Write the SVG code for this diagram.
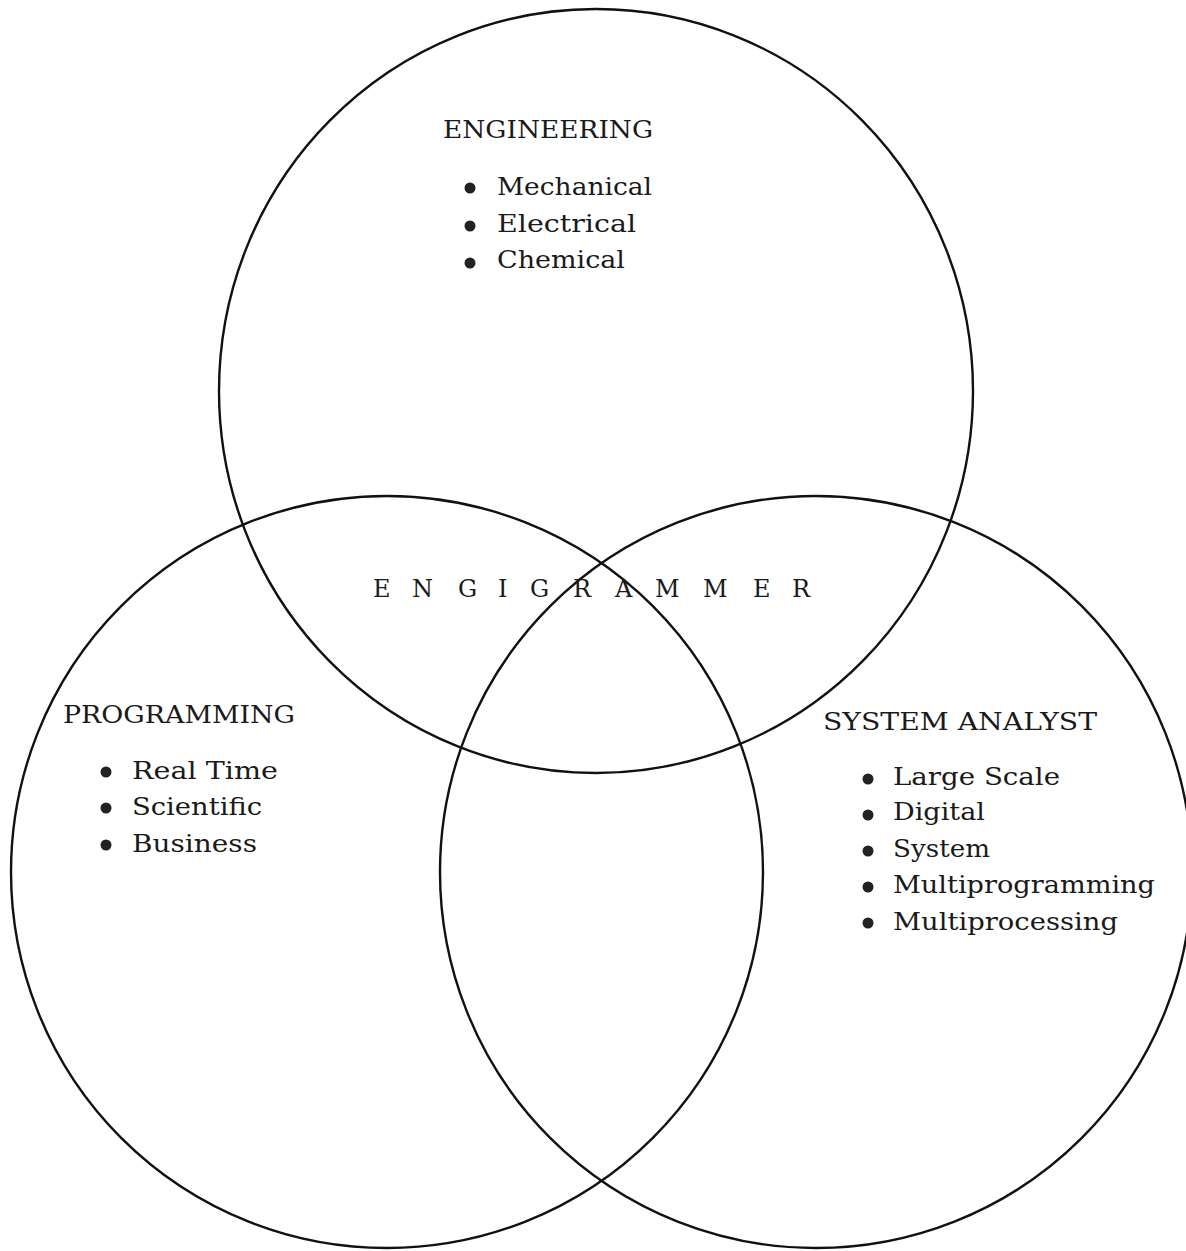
<svg xmlns="http://www.w3.org/2000/svg" width="1186" height="1251" viewBox="0 0 1186 1251">
<style>
.ring{fill:none;stroke:#111;stroke-width:2.4}
.t{font-family:"DejaVu Serif","Liberation Serif",serif;font-size:25px;fill:#1a1a1a}
.h{font-family:"DejaVu Serif","Liberation Serif",serif;font-size:24px;fill:#1a1a1a}
.b{fill:#222}
</style>
<rect width="1186" height="1251" fill="#fff"/>
<g id="connectors"></g>
<g id="engineering">
<ellipse class="ring" cx="596" cy="391" rx="377" ry="382"/>
<text class="h" x="443" y="138" textLength="210" lengthAdjust="spacingAndGlyphs">ENGINEERING</text>
<circle class="b" cx="470" cy="188" r="5.5"/><text class="t" x="497" y="195" textLength="155" lengthAdjust="spacingAndGlyphs">Mechanical</text>
<circle class="b" cx="470" cy="226" r="5.5"/><text class="t" x="497" y="232" textLength="139" lengthAdjust="spacingAndGlyphs">Electrical</text>
<circle class="b" cx="470" cy="263" r="5.5"/><text class="t" x="497" y="268" textLength="128" lengthAdjust="spacingAndGlyphs">Chemical</text>
</g>
<g id="programming">
<circle class="ring" cx="387" cy="872" r="376"/>
<text class="h" x="63" y="723" textLength="232" lengthAdjust="spacingAndGlyphs">PROGRAMMING</text>
<circle class="b" cx="106" cy="772" r="5.5"/><text class="t" x="132" y="779" textLength="146" lengthAdjust="spacingAndGlyphs">Real Time</text>
<circle class="b" cx="106" cy="808" r="5.5"/><text class="t" x="132" y="815" textLength="130" lengthAdjust="spacingAndGlyphs">Scientific</text>
<circle class="b" cx="106" cy="845" r="5.5"/><text class="t" x="132" y="852" textLength="125" lengthAdjust="spacingAndGlyphs">Business</text>
</g>
<g id="system-analyst">
<circle class="ring" cx="816" cy="872" r="376"/>
<text class="h" x="823" y="730" textLength="274" lengthAdjust="spacingAndGlyphs">SYSTEM ANALYST</text>
<circle class="b" cx="868" cy="779" r="5.5"/><text class="t" x="893" y="785" textLength="167" lengthAdjust="spacingAndGlyphs">Large Scale</text>
<circle class="b" cx="868" cy="815" r="5.5"/><text class="t" x="893" y="820" textLength="92" lengthAdjust="spacingAndGlyphs">Digital</text>
<circle class="b" cx="868" cy="851" r="5.5"/><text class="t" x="893" y="857" textLength="97" lengthAdjust="spacingAndGlyphs">System</text>
<circle class="b" cx="868" cy="887" r="5.5"/><text class="t" x="893" y="893" textLength="262" lengthAdjust="spacingAndGlyphs">Multiprogramming</text>
<circle class="b" cx="868" cy="923" r="5.5"/><text class="t" x="893" y="930" textLength="225" lengthAdjust="spacingAndGlyphs">Multiprocessing</text>
</g>
<g id="engigrammer">
<text class="h" x="373 412 458 498 530 573 615 655 703 753 792" y="597">ENGIGRAMMER</text>
</g>
</svg>
